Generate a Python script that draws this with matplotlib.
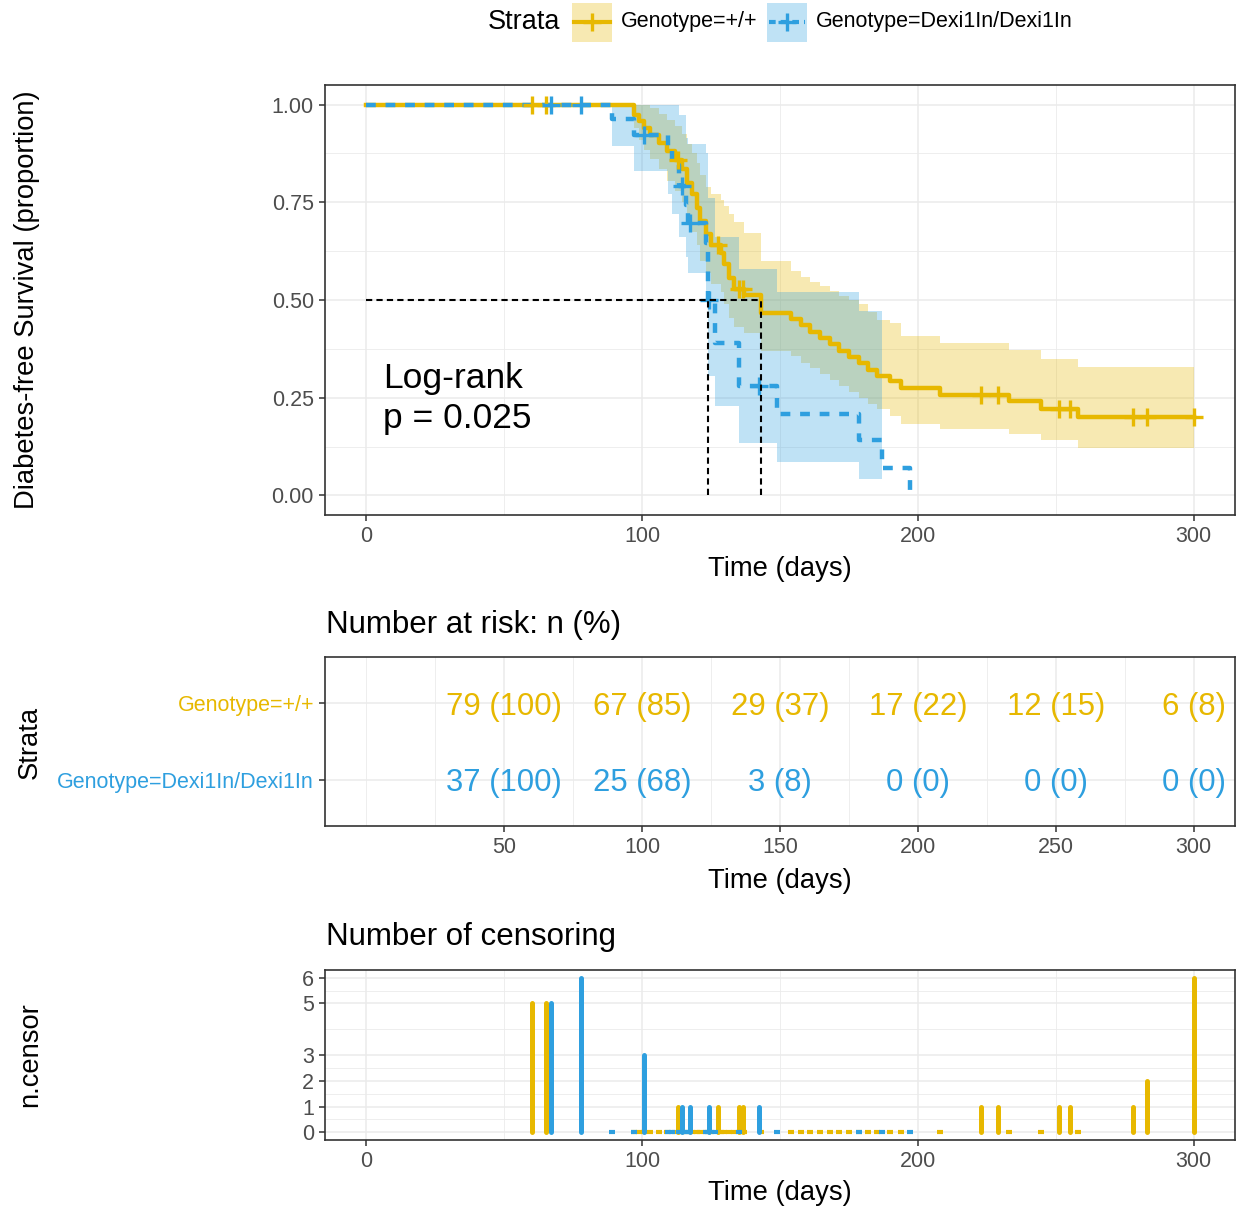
import numpy as np
import matplotlib
matplotlib.use("Agg")
from matplotlib import pyplot as plt
from matplotlib.lines import Line2D
from matplotlib.patches import Rectangle

plt.rcParams["font.family"] = ["Liberation Sans", "DejaVu Sans"]

YELLOW = "#E7B800"
BLUE = "#2E9FDF"
TICK_GREY = "#4D4D4D"
FRAME = "#333333"
GRID = "#EBEBEB"

strata = ["Genotype=+/+", "Genotype=Dexi1In/Dexi1In"]

# Kaplan-Meier steps, Genotype=+/+ (time, survival, 95% CI)
wt_time = [0, 97, 98.8, 100.6, 103, 106, 109, 112, 114.5, 116.3, 118, 120, 121, 123,
           124.8, 128.5, 129.6, 131.4, 133.2, 136.8, 143, 154, 157.5, 161, 164.5, 168,
           171.5, 175, 178.5, 182, 185.2, 190, 194, 208, 233, 244.5, 258]
wt_surv = [1, .974, .957, .940, .923, .902, .881, .859, .834, .800, .770, .736, .702, .668,
           .640, .620, .591, .557, .527, .514, .467, .451, .435, .419, .403, .387,
           .370, .354, .338, .321, .305, .292, .275, .258, .241, .222, .200]
wt_lower = [1, .94, .91, .885, .86, .835, .805, .78, .75, .71, .675, .64, .60, .57,
            .54, .52, .49, .455, .43, .415, .37, .356, .34, .325, .31, .295,
            .28, .265, .25, .235, .22, .203, .184, .171, .156, .141, .122]
wt_upper = [1, 1, 1, 1, .99, .975, .96, .945, .925, .90, .875, .85, .82, .79,
            .77, .757, .74, .72, .70, .672, .60, .574, .56, .545, .535, .522,
            .51, .50, .49, .47, .45, .442, .407, .39, .373, .35, .329]
wt_cens_time = [60, 65, 113, 127.5, 135, 136.5, 223, 229, 251, 255, 278, 283, 300]
wt_cens_n = [5, 5, 1, 1, 1, 1, 1, 1, 1, 1, 1, 2, 6]

# Kaplan-Meier steps, Genotype=Dexi1In/Dexi1In
mut_time = [0, 89, 97, 109.5, 111, 113.3, 116, 116.7, 123, 124, 126.5, 135, 149, 178.6, 187, 197]
mut_surv = [1, .962, .923, .885, .846, .791, .744, .697, .646, .501, .39, .28, .209, .142, .071, 0]
mut_lower = [1, .893, .829, .77, .72, .66, .61, .57, .52, .305, .228, .135, .085, .041, .041, np.nan]
mut_upper = [1, 1, 1, 1, 1, .974, .915, .90, .876, .76, .66, .58, .52, .471, .471, np.nan]
mut_cens_time = [67, 78, 100.8, 114.5, 117.3, 124.2, 142.3]
mut_cens_n = [5, 6, 3, 1, 1, 1, 1]

median_time = [124, 143]

# number at risk table
risk_time = [50, 100, 150, 200, 250, 300]
wt_risk_n = [79, 67, 29, 17, 12, 6]
wt_risk_pct = [100, 85, 37, 22, 15, 8]
mut_risk_n = [37, 25, 3, 0, 0, 0]
mut_risk_pct = [100, 68, 8, 0, 0, 0]

W, H = 1238, 1212
fig = plt.figure(figsize=(W / 100, H / 100), dpi=100)


def px_axes(left, top, right, bottom):
    return fig.add_axes([left / W, 1 - bottom / H, (right - left) / W, (bottom - top) / H])


def style(ax):
    for sp in ax.spines.values():
        sp.set_color(FRAME)
        sp.set_linewidth(1.2)
    ax.tick_params(which="major", length=4, width=1.1, color=FRAME, labelsize=15.5,
                   labelcolor=TICK_GREY, pad=4)
    ax.tick_params(which="minor", length=0)
    ax.grid(which="major", color=GRID, lw=1.1)
    ax.grid(which="minor", color=GRID, lw=0.6)
    ax.set_axisbelow(True)


def fig_text(x, y, s, **kw):
    fig.text(x / W, 1 - y / H, s, **kw)


# ---- survival curves
ax = px_axes(325, 85, 1235, 515)
style(ax)
ax.set_xlim(-15, 315)
ax.set_ylim(-0.05, 1.05)
ax.set_xticks([0, 100, 200, 300])
ax.set_xticks([50, 150, 250], minor=True)
ax.set_yticks([0, .25, .5, .75, 1.0], ["0.00", "0.25", "0.50", "0.75", "1.00"])
ax.set_yticks([.125, .375, .625, .875], minor=True)

groups = [
    (wt_time, wt_surv, wt_lower, wt_upper, wt_cens_time, YELLOW, "-"),
    (mut_time, mut_surv, mut_lower, mut_upper, mut_cens_time, BLUE, (0, (2.2, 2.2))),
]
for t, s, lo, hi, ct, col, ls in groups:
    t = np.r_[t, max(max(t), max(ct))]
    lo = np.r_[lo, lo[-1]]
    hi = np.r_[hi, hi[-1]]
    ax.fill_between(t, lo, hi, step="post", color=col, alpha=0.3, lw=0)
for t, s, lo, hi, ct, col, ls in groups:
    t_end = max(max(t), max(ct))
    tt = np.r_[t, t_end]
    ss = np.r_[s, s[-1]]
    ax.step(tt, ss, where="post", color=col, lw=3.2, ls=ls, zorder=3)
    idx = np.searchsorted(t, ct, side="right") - 1
    ax.plot(ct, np.asarray(s)[idx], ls="none", marker="+", ms=13, mew=2.4, color=col, zorder=4)

ax.plot([0, max(median_time)], [0.5, 0.5], color="black", lw=1.5, ls=(0, (3, 2)), zorder=5)
for m in median_time:
    ax.plot([m, m], [0, 0.5], color="black", lw=1.5, ls=(0, (3, 2)), zorder=5)
ax.text(6, 0.248, "Log-rank\np = 0.025", fontsize=25.5, va="center", ha="left", linespacing=1.3)

fig_text(27, 300, "Diabetes-free Survival (proportion)", rotation=90, ha="center",
         va="center", fontsize=19.7)
fig_text(780, 569, "Time (days)", ha="center", va="center", fontsize=19.7)

# ---- legend
fig_text(488, 22, "Strata", ha="left", va="center", fontsize=19.5)
for x0, lab, col, ls in [(572, strata[0], YELLOW, "-"), (767, strata[1], BLUE, (0, (1.6, 1.2)))]:
    fig.add_artist(Rectangle((x0 / W, 1 - 42 / H), 40 / W, 39 / H, transform=fig.transFigure,
                             facecolor=col, alpha=0.3, lw=0))
    fig.add_artist(Line2D([(x0 + 2) / W, (x0 + 38) / W], [1 - 22 / H] * 2, color=col, lw=3,
                          ls=ls, transform=fig.transFigure))
    fig.add_artist(Line2D([(x0 + 20) / W], [1 - 22 / H], color=col, marker="+", ms=13,
                          mew=2.4, transform=fig.transFigure))
    fig_text(x0 + 49, 22, lab, ha="left", va="center", fontsize=15.5)

# ---- number at risk table
ax2 = px_axes(325, 657, 1235, 826)
style(ax2)
ax2.set_xlim(-15, 315)
ax2.set_ylim(0.4, 2.6)
ax2.set_xticks(risk_time)
ax2.set_xticks([0, 25, 75, 125, 175, 225, 275], minor=True)
ax2.set_yticks([2, 1], strata)
for lab, col in zip(ax2.get_yticklabels(), [YELLOW, BLUE]):
    lab.set_color(col)
for x, n, p in zip(risk_time, wt_risk_n, wt_risk_pct):
    ax2.text(x, 2, f"{n} ({p})", color=YELLOW, fontsize=22.4, ha="center", va="center_baseline")
for x, n, p in zip(risk_time, mut_risk_n, mut_risk_pct):
    ax2.text(x, 1, f"{n} ({p})", color=BLUE, fontsize=22.4, ha="center", va="center_baseline")
fig_text(326, 625, "Number at risk: n (%)", ha="left", va="center", fontsize=22.5)
fig_text(30, 742, "Strata", rotation=90, ha="center", va="center", fontsize=19.7)
fig_text(780, 881, "Time (days)", ha="center", va="center", fontsize=19.7)

# ---- number of censoring
ax3 = px_axes(325, 970, 1235, 1140)
style(ax3)
ax3.set_xlim(-15, 315)
ax3.set_ylim(-0.3, 6.3)
ax3.set_xticks([0, 100, 200, 300])
ax3.set_xticks([50, 150, 250], minor=True)
ax3.set_yticks([0, 1, 2, 3, 5, 6])
ax3.set_yticks([0.5, 1.5, 2.5, 4, 5.5], minor=True)
for t, ct, cn, col in [(wt_time, wt_cens_time, wt_cens_n, YELLOW),
                       (mut_time, mut_cens_time, mut_cens_n, BLUE)]:
    ev = [x for x in t[1:] if x not in ct]
    ax3.plot(ev, np.zeros(len(ev)), ls="none", marker="_", ms=5, mew=3, color=col)
    ax3.vlines(ct, 0, cn, colors=col, lw=3.6, capstyle="round")
fig_text(326, 937, "Number of censoring", ha="left", va="center", fontsize=22.5)
fig_text(30, 1055, "n.censor", rotation=90, ha="center", va="center", fontsize=19.7)
fig_text(780, 1193, "Time (days)", ha="center", va="center", fontsize=19.7)

fig.savefig("out.png", dpi=100)
